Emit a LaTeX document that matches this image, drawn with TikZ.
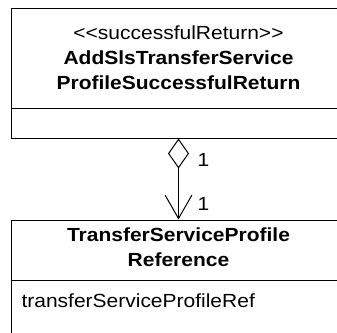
\documentclass[tikz,border=0pt]{standalone}
\usepackage{fontspec}
\setmainfont{Liberation Sans}[FakeStretch=1.105]
\usetikzlibrary{arrows.meta}
\begin{document}
\begin{tikzpicture}[x=1pt,y=-1pt,
  classbox/.style={draw=black,line width=1pt,rectangle,minimum width=335pt,inner sep=0pt},
  txt/.style={inner sep=0pt,font=\fontsize{19}{25}\selectfont,text=black},
  btxt/.style={txt,font=\fontsize{19}{25}\selectfont\bfseries},
  assoc/.style={line width=1pt,{Diamond[open,length=30pt,width=21pt,line width=1pt]}-{Straight Barb[length=23.3pt,width=26.7pt,line width=1pt]}}]
\useasboundingbox (0,0) rectangle (337,332);
% top class
\node[classbox,minimum height=130pt] (c1) at (178.5,73) {};
\draw[line width=1pt] (c1.west |- 0,108.5) coordinate (d1l) -- (c1.east |- 0,108.5) coordinate (d1r);
\node[txt,anchor=base] (st) at (178.5,39.3) {{<}{<}successfulReturn{>}{>}};
\node[btxt,anchor=base] (n1a) at (178.5,64.3) {AddSlsTransferService};
\node[btxt,anchor=base] (n1b) at (178.5,89) {ProfileSuccessfulReturn};
% bottom class
\node[classbox,minimum height=130pt] (c2) at (178.5,285) {};
\draw[line width=1pt] (c2.west |- 0,280.5) coordinate (d2l) -- (c2.east |- 0,280.5) coordinate (d2r);
\node[btxt,anchor=base] (n2a) at (178.5,241.5) {TransferServiceProfile};
\node[btxt,anchor=base] (n2b) at (178.5,266.7) {Reference};
\node[txt,anchor=base west] (a2) at (21.3,307.5) {transferServiceProfileRef};
% association
\draw[assoc] (c1.south) -- (c2.north);
\node[txt,anchor=base west] (m1) at (197.5,166) {1};
\node[txt,anchor=base west] (m2) at (197.5,210) {1};
\end{tikzpicture}
\end{document}
